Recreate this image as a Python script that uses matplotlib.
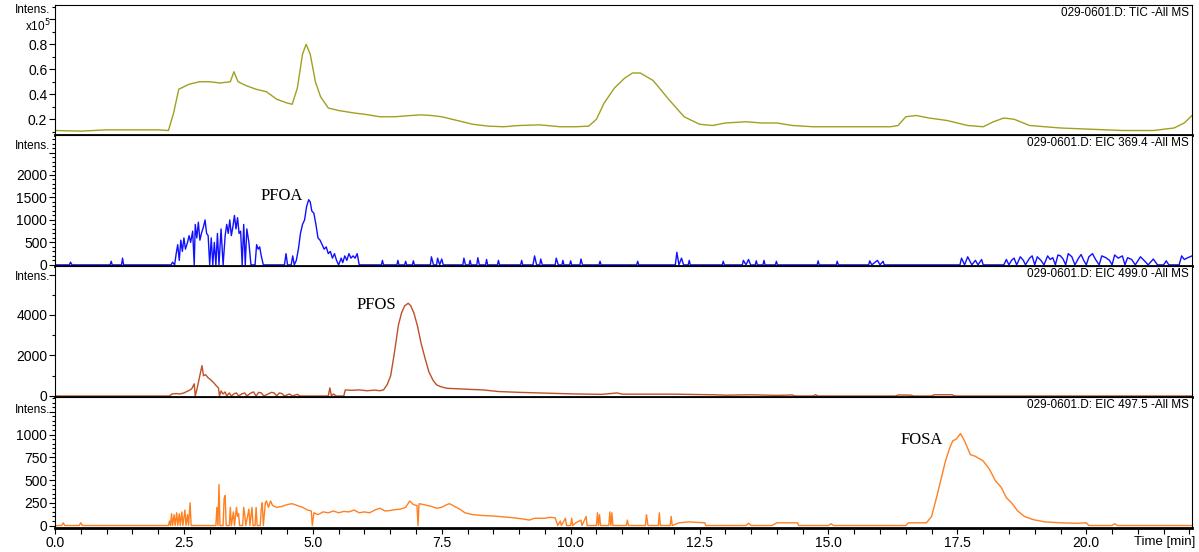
import numpy as np
import matplotlib
matplotlib.use("Agg")
import matplotlib.pyplot as plt
from matplotlib import font_manager
from matplotlib.ticker import MultipleLocator, FuncFormatter

# ---- data ----
tic_t = [0.0, 0.5, 1.0, 1.5, 2.0, 2.2, 2.3, 2.4, 2.6, 2.8, 3.0, 3.2, 3.4, 3.47, 3.55, 3.7,
         3.9, 4.1, 4.3, 4.5, 4.6, 4.7, 4.8, 4.87, 4.95, 5.05, 5.15, 5.3, 5.5, 5.8, 6.0, 6.3,
         6.6, 6.9, 7.1, 7.3, 7.5, 7.8, 8.1, 8.4, 8.7, 9.0, 9.4, 9.8, 10.1, 10.35, 10.5, 10.65,
         10.85, 11.05, 11.2, 11.35, 11.6, 11.9, 12.2, 12.5, 12.75, 13.0, 13.4, 13.7, 14.0,
         14.3, 14.7, 15.2, 15.7, 16.2, 16.35, 16.5, 16.7, 16.95, 17.3, 17.7, 18.0, 18.2, 18.4,
         18.6, 18.9, 19.5, 20.1, 20.7, 21.3, 21.7, 21.9, 22.05]
tic_i = [0.11, 0.105, 0.115, 0.115, 0.115, 0.11, 0.25, 0.44, 0.48, 0.5, 0.5, 0.49, 0.5, 0.58,
         0.5, 0.47, 0.44, 0.42, 0.36, 0.33, 0.32, 0.45, 0.72, 0.8, 0.72, 0.5, 0.38, 0.29, 0.27,
         0.25, 0.24, 0.22, 0.22, 0.23, 0.235, 0.23, 0.22, 0.19, 0.16, 0.145, 0.14, 0.15, 0.155,
         0.14, 0.14, 0.145, 0.2, 0.33, 0.45, 0.53, 0.57, 0.57, 0.51, 0.36, 0.22, 0.16, 0.15,
         0.17, 0.18, 0.17, 0.17, 0.15, 0.14, 0.14, 0.14, 0.14, 0.15, 0.22, 0.23, 0.21, 0.19,
         0.15, 0.14, 0.18, 0.21, 0.2, 0.15, 0.13, 0.12, 0.11, 0.11, 0.13, 0.17, 0.23]

eic369_t = [0.0, 0.28, 0.30, 0.33, 1.07, 1.09, 1.11, 1.29, 1.31, 1.33,
            2.25, 2.28, 2.32, 2.35, 2.38, 2.41, 2.44, 2.47, 2.50, 2.53,
            2.57, 2.60, 2.63, 2.67, 2.70, 2.72, 2.75, 2.78, 2.81, 2.84,
            2.88, 2.91, 2.94, 2.97, 3.00, 3.03, 3.06, 3.09, 3.12, 3.15,
            3.18, 3.22, 3.26, 3.30, 3.33, 3.36, 3.39, 3.42, 3.45, 3.48,
            3.51, 3.54, 3.57, 3.60, 3.63, 3.66, 3.69, 3.72, 3.76, 3.80,
            3.88, 3.91, 3.94, 3.97, 4.00, 4.04, 4.45, 4.48, 4.51, 4.58,
            4.61, 4.64, 4.68, 4.72, 4.76, 4.80, 4.84, 4.88, 4.92, 4.95,
            4.98, 5.02, 5.06, 5.10, 5.14, 5.18, 5.22, 5.26, 5.30, 5.34,
            5.38, 5.42, 5.46, 5.50, 5.55, 5.58, 5.62, 5.66, 5.70, 5.74,
            5.78, 5.82, 5.86, 5.90, 6.33, 6.35, 6.37, 6.63, 6.65, 6.67,
            6.78, 6.80, 6.82, 6.93, 6.95, 6.97, 7.28, 7.30, 7.34, 7.40,
            7.42, 7.46, 7.50, 7.53, 7.91, 7.93, 7.96, 8.03, 8.05, 8.07,
            8.18, 8.20, 8.23, 8.35, 8.37, 8.39, 8.58, 8.60, 8.62, 9.03,
            9.05, 9.07, 9.27, 9.30, 9.34, 9.40, 9.42, 9.45, 9.70, 9.72,
            9.76, 9.83, 9.85, 9.87, 9.98, 10.00, 10.02, 10.18, 10.20, 10.23,
            10.55, 10.57, 10.59, 11.28, 11.30, 11.32, 12.03, 12.06, 12.10, 12.15,
            12.19, 12.28, 12.30, 12.32, 12.94, 12.96, 12.98, 13.33, 13.35, 13.40,
            13.45, 13.49, 13.58, 13.60, 13.62, 13.73, 13.75, 13.77, 13.97, 13.99,
            14.01, 14.78, 14.80, 14.82, 15.15, 15.17, 15.19, 15.78, 15.80, 15.84,
            15.95, 16.00, 16.06, 16.08, 17.55, 17.58, 17.64, 17.70, 17.78, 17.85,
            17.90, 17.97, 18.00, 18.03, 18.40, 18.45, 18.50, 18.55, 18.60, 18.65,
            18.72, 18.78, 18.82, 18.90, 18.95, 19.00, 19.05, 19.12, 19.18, 19.25,
            19.30, 19.35, 19.40, 19.45, 19.50, 19.55, 19.60, 19.65, 19.72, 19.78,
            19.85, 19.90, 19.95, 20.00, 20.05, 20.12, 20.18, 20.25, 20.30, 20.38,
            20.45, 20.50, 20.55, 20.62, 20.70, 20.75, 20.80, 20.88, 20.95, 21.05,
            21.12, 21.20, 21.30, 21.38, 21.50, 21.55, 21.60, 21.80, 21.85, 21.90,
            21.95, 22.05]
eic369_i = [0, 0, 60, 0, 0, 80, 0, 0, 150, 0,
            0, 60, 0, 250, 450, 100, 550, 300, 600, 350,
            500, 650, 500, 750, 0, 900, 600, 950, 550, 700,
            850, 1000, 700, 650, 0, 600, 0, 500, 0, 700,
            0, 800, 0, 650, 900, 700, 1000, 650, 850, 1100,
            800, 1050, 700, 750, 0, 900, 0, 800, 500, 0,
            0, 450, 350, 400, 200, 0, 0, 250, 0, 0,
            200, 0, 100, 350, 700, 900, 1000, 1300, 1450, 1400,
            1200, 1150, 900, 600, 550, 450, 350, 400, 250, 300,
            150, 250, 100, 0, 150, 50, 200, 100, 250, 150,
            200, 150, 250, 0, 0, 100, 0, 0, 100, 0,
            0, 80, 0, 0, 90, 0, 0, 180, 0, 0,
            150, 0, 130, 0, 0, 150, 0, 0, 100, 0,
            0, 160, 0, 0, 120, 0, 0, 100, 0, 0,
            100, 0, 0, 200, 0, 0, 130, 0, 0, 150,
            0, 0, 100, 0, 0, 90, 0, 0, 130, 0,
            0, 80, 0, 0, 80, 0, 0, 280, 0, 150,
            0, 0, 100, 0, 0, 80, 0, 0, 100, 0,
            120, 0, 0, 90, 0, 0, 100, 0, 0, 80,
            0, 0, 90, 0, 0, 80, 0, 0, 90, 0,
            100, 0, 80, 0, 0, 150, 0, 180, 0, 100,
            0, 120, 0, 0, 0, 120, 0, 100, 150, 0,
            180, 100, 0, 150, 200, 0, 180, 100, 0, 200,
            120, 160, 0, 220, 200, 130, 0, 250, 180, 0,
            150, 230, 100, 0, 180, 250, 120, 0, 200, 160,
            100, 0, 220, 150, 200, 0, 160, 120, 0, 180,
            100, 0, 130, 0, 0, 90, 0, 0, 200, 120,
            150, 200]

eic499_t = [0.0, 2.22, 2.27, 2.35, 2.42, 2.50, 2.58, 2.65, 2.70, 2.72,
            2.75, 2.80, 2.85, 2.88, 2.92, 2.97, 3.02, 3.08, 3.13, 3.17,
            3.19, 3.22, 3.26, 3.30, 3.33, 3.38, 3.42, 3.48, 3.52, 3.56,
            3.62, 3.68, 3.72, 3.80, 3.85, 3.90, 3.95, 4.00, 4.05, 4.15,
            4.20, 4.25, 4.30, 4.35, 4.40, 4.45, 4.55, 4.60, 4.70, 4.75,
            5.30, 5.33, 5.36, 5.40, 5.45, 5.60, 5.63, 5.75, 5.90, 6.05,
            6.20, 6.30, 6.37, 6.44, 6.51, 6.58, 6.66, 6.72, 6.78, 6.85,
            6.90, 6.96, 7.03, 7.10, 7.18, 7.25, 7.33, 7.40, 7.48, 7.60,
            7.85, 8.10, 8.30, 8.60, 9.00, 9.40, 9.80, 10.10, 10.60, 10.90,
            11.00, 11.50, 12.00, 12.50, 12.80, 13.00, 13.50, 14.00, 14.30, 14.35,
            14.70, 14.75, 14.80, 16.30, 16.35, 16.60, 16.65, 17.00, 17.05, 17.40,
            17.45, 22.05]
eic499_i = [0, 0, 100, 120, 100, 150, 250, 350, 600, 0,
            300, 900, 1500, 1000, 1050, 900, 800, 650, 500, 400,
            0, 250, 100, 200, 0, 150, 0, 120, 150, 0,
            100, 150, 0, 150, 200, 0, 180, 150, 0, 120,
            180, 150, 0, 150, 120, 0, 100, 0, 80, 0,
            0, 400, 0, 100, 0, 0, 300, 280, 300, 260,
            290, 260, 300, 550, 1000, 2100, 3500, 4100, 4450, 4580,
            4450, 4100, 3450, 2600, 1830, 1200, 780, 550, 460, 380,
            350, 320, 300, 220, 180, 150, 120, 100, 80, 150,
            90, 90, 90, 70, 60, 40, 60, 30, 50, 0,
            0, 60, 0, 0, 50, 40, 0, 0, 60, 60,
            0, 0]

eic497_t = [0.0, 0.13, 0.16, 0.19, 0.47, 0.50, 0.53, 2.20, 2.22, 2.24,
            2.26, 2.28, 2.31, 2.33, 2.36, 2.38, 2.41, 2.43, 2.46, 2.48,
            2.52, 2.54, 2.57, 2.59, 2.62, 2.64, 3.12, 3.14, 3.16, 3.18,
            3.20, 3.26, 3.28, 3.30, 3.32, 3.38, 3.40, 3.42, 3.46, 3.48,
            3.52, 3.54, 3.56, 3.58, 3.64, 3.66, 3.68, 3.70, 3.76, 3.78,
            3.82, 3.84, 3.88, 3.90, 3.92, 3.98, 4.00, 4.02, 4.04, 4.08,
            4.10, 4.14, 4.18, 4.22, 4.30, 4.40, 4.50, 4.60, 4.70, 4.80,
            4.90, 4.97, 4.99, 5.02, 5.10, 5.20, 5.30, 5.40, 5.50, 5.60,
            5.70, 5.80, 5.90, 6.00, 6.10, 6.20, 6.30, 6.40, 6.50, 6.60,
            6.70, 6.80, 6.88, 6.95, 7.02, 7.04, 7.06, 7.15, 7.30, 7.40,
            7.50, 7.60, 7.65, 7.75, 7.85, 7.95, 8.10, 8.30, 8.50, 8.70,
            8.90, 9.10, 9.20, 9.30, 9.50, 9.60, 9.70, 9.75, 9.80, 9.82,
            9.90, 9.92, 10.00, 10.02, 10.04, 10.10, 10.20, 10.22, 10.30, 10.32,
            10.50, 10.52, 10.54, 10.56, 10.58, 10.74, 10.76, 10.78, 10.80, 10.82,
            11.08, 11.10, 11.12, 11.45, 11.47, 11.50, 11.70, 11.72, 11.74, 11.93,
            11.95, 11.97, 12.10, 12.30, 12.60, 12.62, 13.40, 13.45, 13.50, 13.90,
            14.00, 14.40, 14.42, 15.00, 15.05, 15.10, 16.50, 16.55, 16.90, 17.00,
            17.11, 17.20, 17.27, 17.35, 17.41, 17.48, 17.56, 17.62, 17.67, 17.75,
            17.85, 18.00, 18.12, 18.24, 18.35, 18.45, 18.55, 18.67, 18.80, 18.97,
            19.20, 19.50, 19.80, 20.00, 20.05, 20.50, 20.55, 20.60, 21.30, 22.05]
eic497_i = [0, 0, 30, 0, 0, 30, 0, 0, 50, 0,
            130, 0, 120, 0, 140, 0, 130, 0, 150, 0,
            170, 0, 120, 0, 250, 0, 0, 200, 0, 450,
            0, 0, 300, 330, 0, 0, 200, 0, 150, 0,
            200, 100, 130, 0, 0, 200, 120, 0, 180, 0,
            200, 0, 0, 200, 0, 0, 180, 250, 0, 250,
            270, 200, 270, 220, 200, 210, 230, 240, 220, 200,
            170, 160, 0, 140, 120, 150, 140, 160, 140, 155,
            150, 170, 140, 150, 140, 170, 190, 160, 165, 175,
            180, 200, 270, 230, 220, 0, 240, 230, 210, 190,
            200, 230, 240, 210, 180, 140, 120, 110, 105, 95,
            85, 70, 60, 80, 80, 90, 85, 0, 50, 0,
            80, 0, 0, 80, 0, 30, 60, 0, 100, 0,
            0, 140, 0, 120, 0, 0, 150, 0, 140, 0,
            0, 60, 0, 0, 120, 0, 0, 140, 0, 0,
            100, 0, 30, 40, 30, 0, 0, 25, 0, 0,
            30, 30, 0, 0, 20, 0, 0, 30, 30, 100,
            340, 550, 710, 850, 930, 950, 1010, 950, 890, 780,
            760, 710, 620, 490, 420, 305, 250, 160, 100, 65,
            40, 30, 25, 30, 0, 0, 20, 0, 0, 0]

panel_titles = ["029-0601.D: TIC -All MS", "029-0601.D: EIC 369.4 -All MS",
                "029-0601.D: EIC 499.0 -All MS", "029-0601.D: EIC 497.5 -All MS"]
peak_names = ["PFOA", "PFOS", "FOSA"]
peak_pos = [(4.39, 1530), (6.23, 4480), (16.8, 940)]
x_ticks = [0.0, 2.5, 5.0, 7.5, 10.0, 12.5, 15.0, 17.5, 20.0]

# ---- fonts ----
installed = {f.name for f in font_manager.fontManager.ttflist}
sans = [f for f in ["Liberation Sans Narrow", "Liberation Sans", "DejaVu Sans"] if f in installed]
serif = [f for f in ["Liberation Serif", "DejaVu Serif"] if f in installed]
plt.rcParams['font.family'] = sans

fig = plt.figure(figsize=(11.99, 5.52), dpi=100)
W, H = 1199.0, 552.0
left, right = 55, 1192
edges = [5, 135, 266, 397, 528]

colors = ["#A0A020", "#1010FF", "#BE5028", "#FF8020"]
series = [(tic_t, tic_i), (eic369_t, eic369_i), (eic499_t, eic499_i), (eic497_t, eic497_i)]
ylims = [(0.074, 1.114), (-25, 2890), (-50, 6420), (-27, 1412)]
major = [0.2, 500, 2000, 250]
minor = [0.1, 100, 1000, 50]
label_max = [0.8, 2000, 4000, 1000]   # top ticks carry no label (room for "Intens.")
intens_y = [0.96, 0.915, 0.915, 0.9]

def make_fmt(limit, fmt):
    return FuncFormatter(lambda v, p: "" if v > limit * 1.001 else fmt % v)

axes = []
for k in range(4):
    top, bot = edges[k], edges[k + 1]
    ax = fig.add_axes([left / W, 1 - bot / H, (right - left) / W, (bot - top) / H],
                      sharex=axes[0] if axes else None)
    axes.append(ax)
    t, v = series[k]
    ax.plot(t, v, color=colors[k], lw=1.0)
    ax.set_xlim(0, 22.05)
    ax.set_ylim(*ylims[k])
    ax.yaxis.set_major_locator(MultipleLocator(major[k]))
    ax.yaxis.set_minor_locator(MultipleLocator(minor[k]))
    ax.yaxis.set_major_formatter(make_fmt(label_max[k], "%.1f" if k == 0 else "%d"))
    ax.tick_params(axis='y', which='major', length=4, width=0.8, labelsize=10, pad=1.5)
    ax.tick_params(axis='y', which='minor', length=2.5, width=0.8)
    for s in ['top', 'right', 'left']:
        ax.spines[s].set_linewidth(0.8)
    ax.spines['bottom'].set_linewidth(2.0)
    ax.text(0.997, 0.985, panel_titles[k], transform=ax.transAxes, ha='right', va='top',
            fontsize=8.5)
    ax.text(-0.004, intens_y[k], "Intens.", transform=ax.transAxes,
            ha='right', va='center', fontsize=8.5)
    if k < 3:
        ax.tick_params(axis='x', which='both', bottom=False, labelbottom=False)

# TIC panel: scale factor label sits on the 1.0 tick
axes[0].text(-0.004, 0.84, "x10$^5$", transform=axes[0].transAxes, ha='right', va='center',
             fontsize=8.5)

# peak labels
for ax, name, (px, py) in zip(axes[1:], peak_names, peak_pos):
    ax.text(px, py, name, ha='center', va='center', fontsize=12, family=serif)

ax4 = axes[3]
ax4.set_xticks(x_ticks)
ax4.xaxis.set_major_formatter(FuncFormatter(lambda v, p: "%.1f" % v))
ax4.xaxis.set_minor_locator(MultipleLocator(0.5))
ax4.tick_params(axis='x', which='major', length=4, width=0.8, labelsize=10, pad=2)
ax4.tick_params(axis='x', which='minor', length=4, width=0.8)
ax4.annotate("Time [min]", xy=(21.53, 0), xycoords=('data', 'axes fraction'),
             xytext=(0, -6), textcoords='offset points', ha='center', va='top', fontsize=9.5)

fig.savefig("out.png", dpi=100)
